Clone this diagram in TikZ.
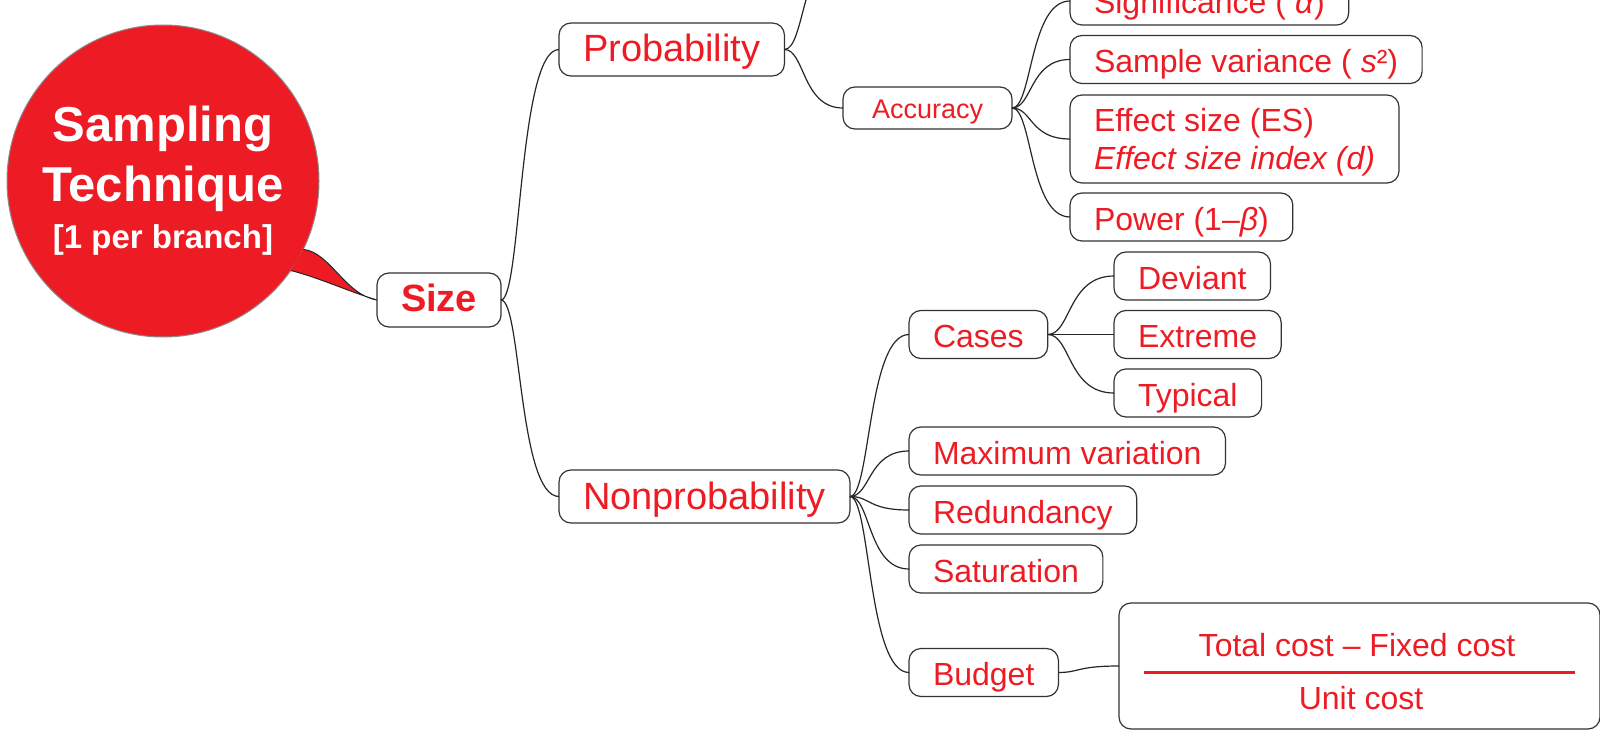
\documentclass[tikz,border=0pt]{standalone}
\usepackage{fontspec}
\setmainfont{Liberation Sans}
\usepackage{tikz}
\usetikzlibrary{calc}
\definecolor{xred}{HTML}{ED1C24}

\begin{document}
\begin{tikzpicture}[x=1pt,y=-1pt,line width=1.2pt,
		base node/.style={rectangle,rounded corners=12pt,draw=black!80,text=xred,inner xsep=24pt,inner ysep=2pt,outer sep=0pt,anchor=west},
		main node/.style={base node,minimum height=53pt,text height=25pt,text depth=0pt,font=\fontsize{38}{44}\selectfont},
		size node/.style={main node,minimum height=54pt,text height=23.4pt,font=\bfseries\fontsize{38}{44}\selectfont},
		acc node/.style={base node,inner xsep=29pt,minimum height=42pt,text height=20.6pt,text depth=0pt,font=\fontsize{27}{32}\selectfont},
		leaf node/.style={base node,minimum height=48pt,text height=26pt,text depth=0pt,font=\fontsize{32}{38}\selectfont},
		frac node/.style={base node,minimum width=481pt,minimum height=126pt,rounded corners=12pt},
		frac text/.style={text=xred,inner sep=0pt,anchor=base,font=\fontsize{32}{38}\selectfont},
		root node/.style={circle,fill=xred,draw=black!45,line width=1pt,minimum size=312pt,inner sep=0pt,outer sep=0pt,text=white,align=center,font=\bfseries\fontsize{49}{60}\selectfont},
		link/.style={draw=black!85,line width=1.2pt,to path={let \p1=(\tikztostart),\p2=(\tikztotarget) in .. controls ({\x1+0.35*(\x2-\x1)},\y1) and ({\x1+0.3*(\x2-\x1)},\y2) .. (\tikztotarget)}}]
		
		\useasboundingbox (0,0) rectangle (1600,730);
		\clip (0,0) rectangle (1600,730);
		
		\node[root node](root) at (163,181) {Sampling\\Technique\\[-13pt]{\fontsize{33}{47}\selectfont [1 per branch]}};
		\node[size node](size) at (377,300) {Size};
		\filldraw[fill=xred,draw=black!85,line width=1pt] (root.-26) .. controls (330,252) and (345,295) .. (size.west) .. controls (350,292) and (320,278) .. (root.-35);
		
		\node[main node](prob) at (559,49.5) {Probability};
		\node[main node](nonprob) at (559,496.5) {Nonprobability};
		\node[acc node](acc) at (843,108) {Accuracy};
		\coordinate (probup) at (843,-50);
		
		\node[leaf node](sig) at (1070,1) {Significance ( \textit{α})};
		\node[leaf node](svar) at (1070,59.5) {Sample variance ( \textit{s}²)};
		\node[leaf node,align=left,inner ysep=10pt,text height=,text depth=0pt,minimum height=88pt](effect) at (1070,139) {Effect size (ES)\\\textit{Effect size index (d)}};
		\node[leaf node](power) at (1070,217) {Power (1–\textit{β})};
		
		\node[leaf node](cases) at (909,334.5) {Cases};
		\node[leaf node](dev) at (1114,276) {Deviant};
		\node[leaf node](ext) at (1114,334.5) {Extreme};
		\node[leaf node](typ) at (1114,393) {Typical};
		\node[leaf node](maxvar) at (909,451) {Maximum variation};
		\node[leaf node](redund) at (909,510) {Redundancy};
		\node[leaf node](satur) at (909,569) {Saturation};
		\node[leaf node](budget) at (909,672.5) {Budget};
		
		% budget formula
		\node[frac node](frac) at (1119,666) {};
		\node[frac text](fnum) at (1357,656) {Total cost – Fixed cost};
		\node[frac text](fden) at (1361,709) {Unit cost};
		\draw[xred,line width=3pt] (1144,672) -- (1575,672);
		
		\path
		(size.east) edge[link] (prob.west)
		(size.east) edge[link] (nonprob.west)
		(prob.east) edge[link] (probup)
		(prob.east) edge[link] (acc.west)
		(acc.east) edge[link] (sig.west)
		(acc.east) edge[link] (svar.west)
		(acc.east) edge[link] (effect.west)
		(acc.east) edge[link] (power.west)
		(nonprob.east) edge[link] (cases.west)
		(nonprob.east) edge[link] (maxvar.west)
		(nonprob.east) edge[link] (redund.west)
		(nonprob.east) edge[link] (satur.west)
		(nonprob.east) edge[link] (budget.west)
		(cases.east) edge[link] (dev.west)
		(cases.east) edge[link] (ext.west)
		(cases.east) edge[link] (typ.west)
		(budget.east) edge[link] (frac.west);
		
	\end{tikzpicture}
\end{document}
